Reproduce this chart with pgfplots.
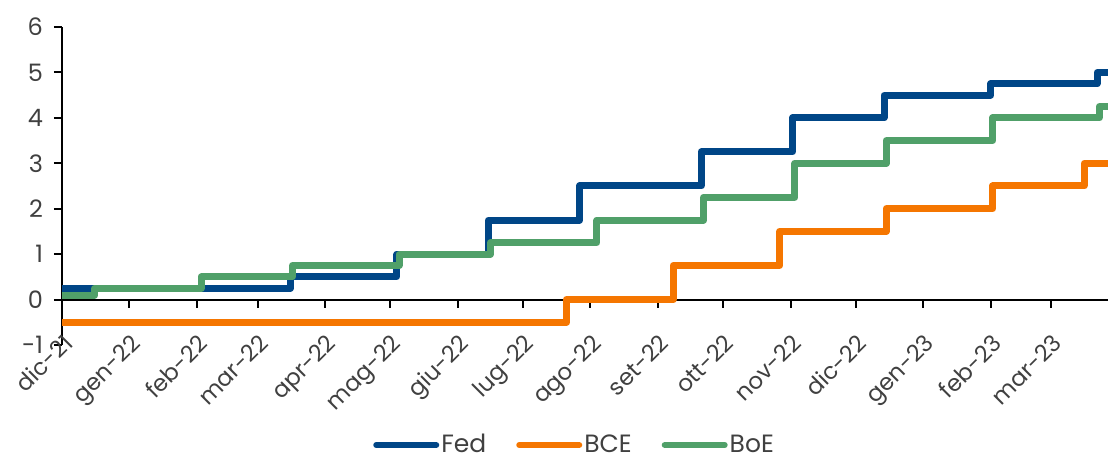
\documentclass[border=0pt]{standalone}
\usepackage{pgfplots}
\pgfplotsset{compat=1.18}
\usepackage{fontspec}
\setmainfont{Poppins}
\definecolor{fedc}{RGB}{0,70,135}
\definecolor{bcec}{RGB}{245,118,0}
\definecolor{boec}{RGB}{80,160,105}
\definecolor{txt}{RGB}{64,64,64}
\begin{document}
\begin{tikzpicture}
\useasboundingbox (-31pt,-57.5pt) rectangle (524.5pt,172.5pt);
\begin{axis}[
  scale only axis, width=523pt, height=159pt,
  xmin=0, xmax=481, ymin=-1, ymax=6,
  axis x line=middle, axis y line=left,
  axis line style={-, line width=1pt, black},
  hide obscured x ticks=false, hide obscured y ticks=false,
  tick align=outside, major tick length=4pt,
  tick style={line width=1pt, black},
  xtick={0,31,62,90,121,151,182,212,243,274,304,335,365,396,427,455},
  xticklabels={dic-21,gen-22,feb-22,mar-22,apr-22,mag-22,giu-22,lug-22,ago-22,set-22,ott-22,nov-22,dic-22,gen-23,feb-23,mar-23},
  xticklabel shift=11pt,
  xticklabel style={rotate=45, anchor=north east, font=\fontsize{11.5}{13}\selectfont, text=txt, inner sep=1pt},
  ytick={-1,0,1,2,3,4,5,6},
  yticklabel style={font=\fontsize{12}{14}\selectfont, text=txt, xshift=-2pt},
  /pgf/number format/assume math mode=true,
  legend style={at={(0.49,0)}, anchor=center, yshift=-50pt, draw=none, fill=none,
    inner sep=0pt, nodes={inner sep=1pt},
    legend columns=3, font=\fontsize{12.5}{14}\selectfont, text=txt,
    /tikz/every even column/.append style={column sep=14pt}},
  legend image code/.code={\draw[#1, line width=3pt, line cap=round] (0pt,0pt) -- (30pt,0pt);},
  every axis plot/.append style={line width=3.5pt, line join=round},
]
\addplot[const plot, fedc] coordinates {(0,0.25) (105,0.5) (154,1.0) (196,1.75) (238,2.5) (294,3.25) (336,4.0) (378,4.5) (427,4.75) (476,5.0) (481,5.0)};
\addlegendentry{Fed}
\addplot[const plot, bcec] coordinates {(0,-0.5) (232,0) (281,0.75) (330,1.5) (379,2.0) (428,2.5) (470,3.0) (481,3.0)};
\addlegendentry{BCE}
\addplot[const plot, boec] coordinates {(0,0.1) (15,0.25) (64,0.5) (106,0.75) (155,1.0) (197,1.25) (246,1.75) (295,2.25) (337,3.0) (379,3.5) (428,4.0) (477,4.25) (481,4.25)};
\addlegendentry{BoE}
\end{axis}
\end{tikzpicture}
\end{document}
